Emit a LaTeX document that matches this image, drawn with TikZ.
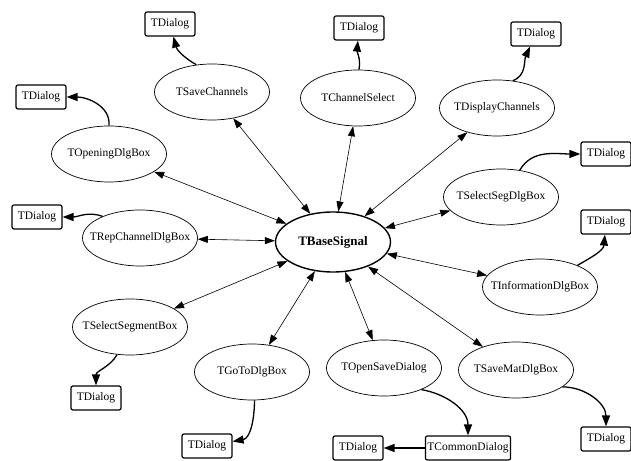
\documentclass[tikz,border=0pt]{standalone}
\usepackage{fontspec}
\setmainfont{Liberation Serif}
\usetikzlibrary{arrows.meta,shapes.geometric}
\newcommand{\clsname}[1]{\makebox[0pt]{#1}}
\begin{document}
\begin{tikzpicture}[x=1pt,y=1pt,font=\fontsize{11.5}{13}\selectfont]
	\tikzstyle{cls}=[ellipse,draw,line width=0.7pt,minimum width=115pt,minimum height=56pt,inner sep=0pt]
	\tikzstyle{root}=[ellipse,draw,line width=1.4pt,minimum width=115pt,minimum height=60pt,inner sep=0pt,font=\fontsize{13}{15}\selectfont\bfseries]
	\tikzstyle{dlg}=[rectangle,draw,rounded corners=2pt,line width=1.2pt,minimum width=50pt,minimum height=24pt,inner sep=2pt]
	\tikzstyle{assoc}=[line width=0.6pt,{Triangle[length=10pt,width=7pt]}-{Triangle[length=10pt,width=7pt]}]
	\tikzstyle{inherit}=[line width=1.3pt,-{Triangle[length=11pt,width=8pt]}]
	\useasboundingbox (0,0) rectangle (631,460);

	\node[root] (base) at (333,218) {\clsname{TBaseSignal}};
	\node[cls] (savech) at (212,368) {\clsname{TSaveChannels}};
	\node[cls] (chsel) at (358,362) {\clsname{TChannelSelect}};
	\node[cls] (dispch) at (497,352) {\clsname{TDisplayChannels}};
	\node[cls] (selsegdlg) at (501,263) {\clsname{TSelectSegDlgBox}};
	\node[cls] (opening) at (109,306) {\clsname{TOpeningDlgBox}};
	\node[cls] (repch) at (140,222) {\clsname{TRepChannelDlgBox}};
	\node[cls] (selsegbox) at (130,133) {\clsname{TSelectSegmentBox}};
	\node[cls] (goto) at (252,88) {\clsname{TGoToDlgBox}};
	\node[cls] (opensave) at (384,92) {\clsname{TOpenSaveDialog}};
	\node[cls] (savemat) at (516,90) {\clsname{TSaveMatDlgBox}};
	\node[cls] (info) at (540,173) {\clsname{TInformationDlgBox}};

	\node[dlg] (dlgA) at (170,436) {TDialog};
	\node[dlg] (dlgB) at (41,363) {TDialog};
	\node[dlg] (dlgC) at (37,243) {TDialog};
	\node[dlg] (dlgD) at (359,432) {TDialog};
	\node[dlg] (dlgE) at (536,426) {TDialog};
	\node[dlg] (dlgF) at (606,306) {TDialog};
	\node[dlg] (dlgG) at (606,238) {TDialog};
	\node[dlg] (dlgH) at (96,62) {TDialog};
	\node[dlg] (dlgI) at (207,14) {TDialog};
	\node[dlg] (common) at (468,12) {TCommonDialog};
	\node[dlg] (dlgJ) at (358,12) {TDialog};
	\node[dlg] (dlgK) at (606,21) {TDialog};

	\draw[assoc] (base) -- (savech);
	\draw[assoc] (base) -- (chsel);
	\draw[assoc] (base) -- (dispch);
	\draw[assoc] (base) -- (selsegdlg);
	\draw[assoc] (base) -- (opening);
	\draw[assoc] (base) -- (repch);
	\draw[assoc] (base) -- (selsegbox);
	\draw[assoc] (base) -- (goto);
	\draw[assoc] (base) -- (opensave);
	\draw[assoc] (base) -- (savemat);
	\draw[assoc] (base) -- (info);

	\draw[inherit] (savech.120) to[out=150,in=-75] (dlgA);
	\draw[inherit] (opening.90) to[out=85,in=0] (dlgB);
	\draw[inherit] (repch.150) to[out=160,in=0] (dlgC);
	\draw[inherit] (chsel.88) to[out=80,in=-95] (dlgD);
	\draw[inherit] (dispch.60) to[out=20,in=-115] (dlgE);
	\draw[inherit] (selsegdlg.55) to[out=60,in=180] (dlgF);
	\draw[inherit] (info.30) to[out=30,in=-95] (dlgG);
	\draw[inherit] (selsegbox.-115) to[out=-120,in=90] (dlgH);
	\draw[inherit] (goto.-85) to[out=-90,in=10] (dlgI);
	\draw[inherit] (opensave.-30) to[out=-10,in=90] (common);
	\draw[inherit] (common) -- (dlgJ);
	\draw[inherit] (savemat.-20) to[out=0,in=90] (dlgK);
\end{tikzpicture}
\end{document}
